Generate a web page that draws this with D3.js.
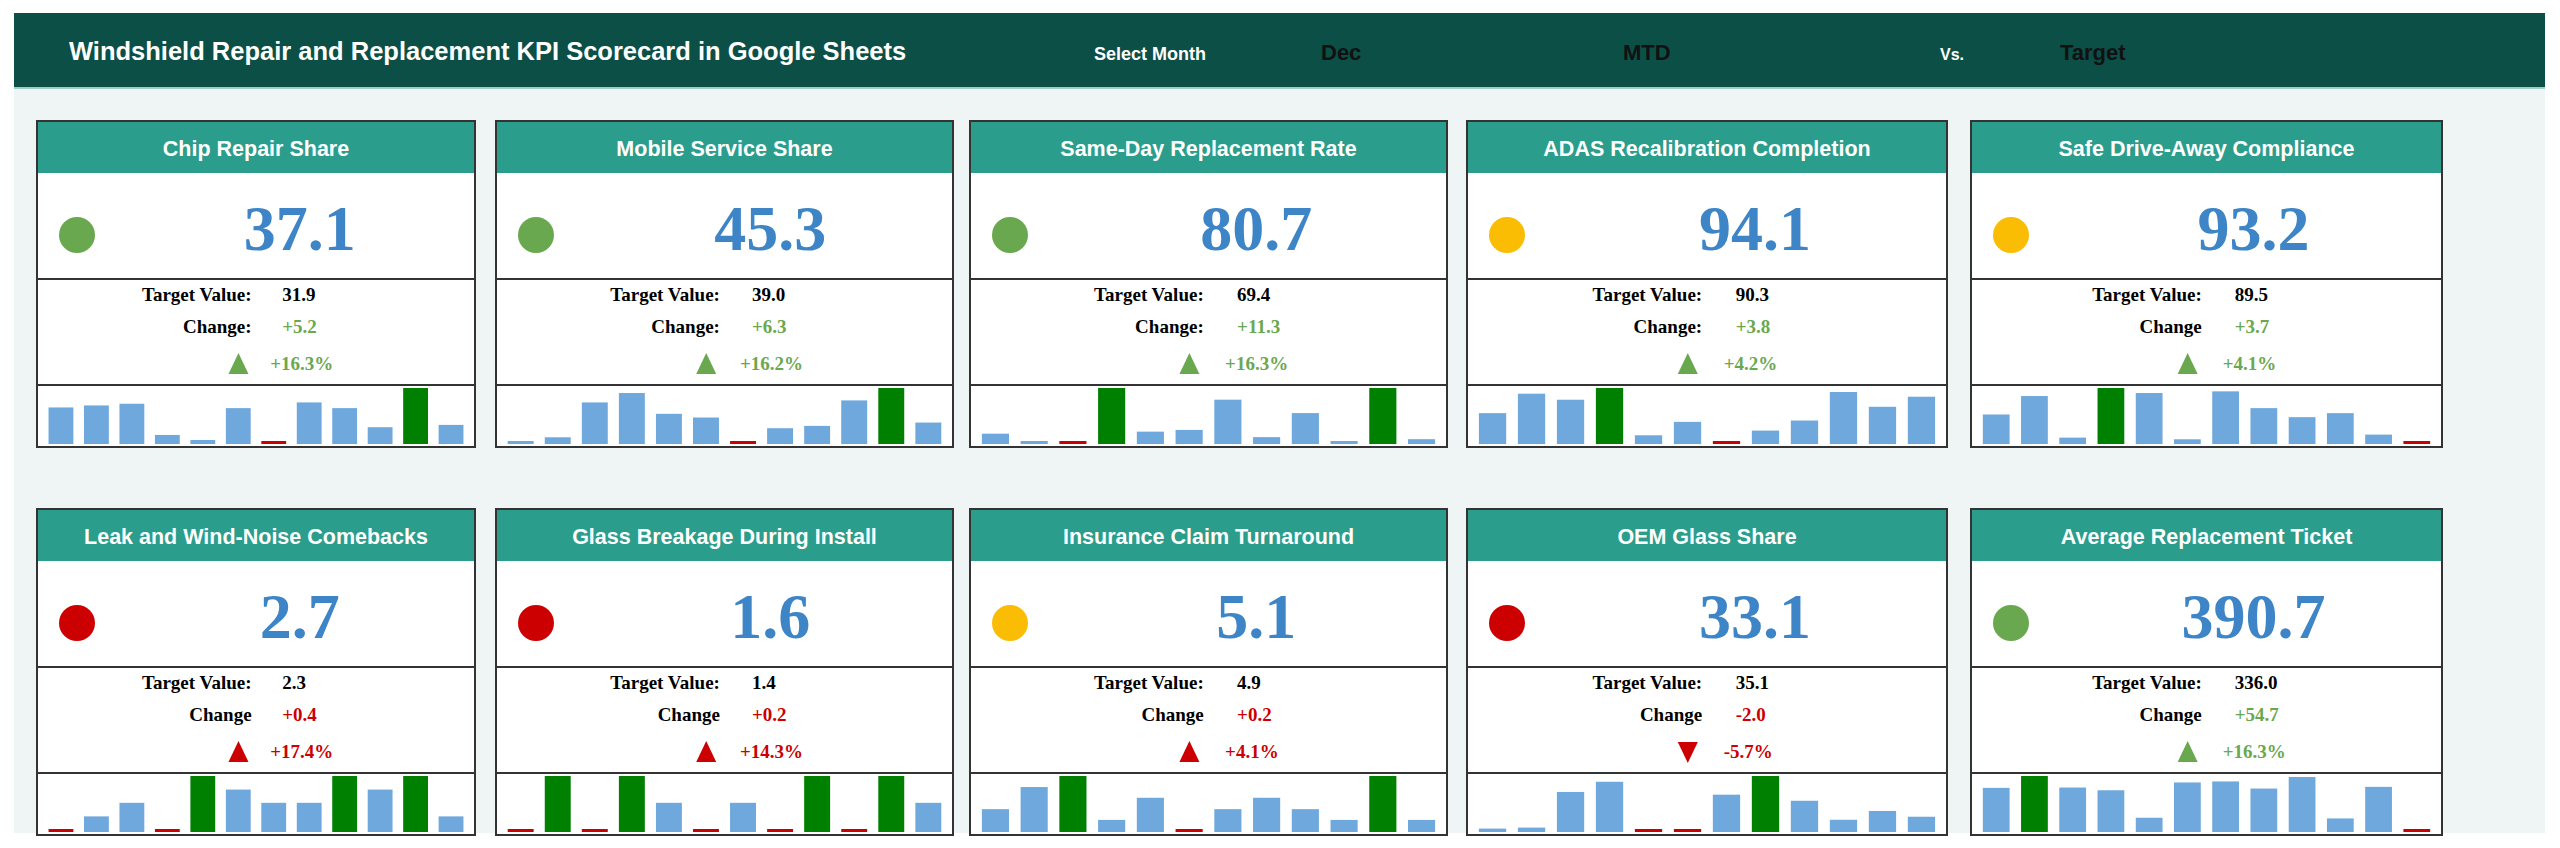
<!DOCTYPE html>
<html>
<head>
<meta charset="utf-8">
<script src="https://cdn.jsdelivr.net/npm/d3@7"></script>
<style>
  body { margin: 0; background: #fff; }
  svg { display: block; }
</style>
</head>
<body>
<svg id="board" width="2560" height="848"></svg>
<script>
// KPI scorecard data
var titles = ["Chip Repair Share", "Mobile Service Share", "Same-Day Replacement Rate", "ADAS Recalibration Completion", "Safe Drive-Away Compliance",
  "Leak and Wind-Noise Comebacks", "Glass Breakage During Install", "Insurance Claim Turnaround", "OEM Glass Share", "Average Replacement Ticket"];
var actuals = ["37.1", "45.3", "80.7", "94.1", "93.2", "2.7", "1.6", "5.1", "33.1", "390.7"];
var targets = ["31.9", "39.0", "69.4", "90.3", "89.5", "2.3", "1.4", "4.9", "35.1", "336.0"];
var changes = ["+5.2", "+6.3", "+11.3", "+3.8", "+3.7", "+0.4", "+0.2", "+0.2", "-2.0", "+54.7"];
var pcts = ["+16.3%", "+16.2%", "+16.3%", "+4.2%", "+4.1%", "+17.4%", "+14.3%", "+4.1%", "-5.7%", "+16.3%"];
var kpiStatus = ["good", "good", "good", "warn", "warn", "bad", "bad", "warn", "bad", "good"];
var changeGood = [true, true, true, true, true, false, false, false, false, true];
var arrowUp = [true, true, true, true, true, true, true, true, false, true];
var changeLabels = ["Change:", "Change:", "Change:", "Change:", "Change", "Change", "Change", "Change", "Change", "Change"];
var months = ["Jan", "Feb", "Mar", "Apr", "May", "Jun", "Jul", "Aug", "Sep", "Oct", "Nov", "Dec"];
var trends = [
  [109, 115, 120, 27, 12, 107, 5, 124, 107, 50, 167, 57],
  [7, 20, 124, 152, 90, 79, 4, 47, 54, 130, 167, 64],
  [30, 8, 3, 163, 36, 41, 129, 20, 90, 6, 163, 14],
  [92, 150, 132, 167, 26, 66, 4, 40, 70, 155, 111, 141],
  [88, 143, 19, 167, 152, 14, 157, 107, 80, 92, 28, 4],
  [3, 46, 86, 3, 165, 125, 86, 86, 165, 125, 165, 46],
  [3, 165, 3, 165, 86, 3, 86, 3, 165, 3, 165, 86],
  [66, 130, 162, 35, 99, 3, 66, 99, 66, 35, 162, 35],
  [10, 13, 118, 148, 3, 3, 110, 165, 92, 36, 62, 45],
  [130, 165, 131, 123, 42, 146, 149, 128, 162, 40, 133, 3]
];

var statusColor = { good: "#6aa84f", warn: "#fbbc04", bad: "#cc0000" };
var cardX = [37, 496, 970, 1467, 1971];
var cardW = [438, 457, 477, 480, 471];
var rowY = [121, 509];
var sec = [52, 106, 106, 62];

var svg = d3.select("#board");
var sans = "'Liberation Sans', Arial, sans-serif";
var serif = "'Liberation Serif', 'Times New Roman', serif";

// Background and header
svg.append("rect").attr("x", 14).attr("y", 88).attr("width", 2531).attr("height", 745).attr("fill", "#eef5f4");
svg.append("rect").attr("x", 14).attr("y", 13).attr("width", 2531).attr("height", 76).attr("fill", "#0b4f47");
svg.append("rect").attr("x", 14).attr("y", 87).attr("width", 2531).attr("height", 2).attr("fill", "#9ecfc6");

var head = [
  { t: "Windshield Repair and Replacement KPI Scorecard in Google Sheets", x: 69, s: 25.5, c: "#fff" },
  { t: "Select Month", x: 1094, s: 18, c: "#fff" },
  { t: "Dec", x: 1321, s: 22, c: "#111" },
  { t: "MTD", x: 1623, s: 22, c: "#111" },
  { t: "Vs.", x: 1940, s: 16, c: "#fff" },
  { t: "Target", x: 2060, s: 22, c: "#111" }
];
svg.selectAll("text.head").data(head).enter().append("text")
  .attr("class", "head")
  .attr("x", function (d) { return d.x; })
  .attr("y", 60)
  .attr("font-family", sans)
  .attr("font-weight", "bold")
  .attr("font-size", function (d) { return d.s; })
  .attr("fill", function (d) { return d.c; })
  .text(function (d) { return d.t; });

titles.forEach(function (title, i) {
  var col = i % 5, row = Math.floor(i / 5);
  var x0 = cardX[col], w = cardW[col], y0 = rowY[row];
  var g = svg.append("g").attr("transform", "translate(" + x0 + "," + y0 + ")");
  var h = d3.sum(sec);
  var yVal = sec[0], yDet = sec[0] + sec[1], ySpark = sec[0] + sec[1] + sec[2];

  g.append("rect").attr("width", w).attr("height", h).attr("fill", "#fff");
  g.append("rect").attr("width", w).attr("height", sec[0]).attr("fill", "#2a9d8c");
  g.append("text").attr("x", w / 2).attr("y", 35).attr("text-anchor", "middle")
    .attr("font-family", sans).attr("font-weight", "bold").attr("font-size", 21.5)
    .attr("fill", "#fff").text(title);

  // big value
  g.append("circle").attr("cx", 40).attr("cy", yVal + 62).attr("r", 18).attr("fill", statusColor[kpiStatus[i]]);
  g.append("text").attr("x", w * 0.6).attr("y", yVal + 77).attr("text-anchor", "middle")
    .attr("font-family", serif).attr("font-weight", "bold").attr("font-size", 64)
    .attr("fill", "#3d85c6").text(actuals[i]);

  // details
  var lx = w * 0.49, vx = w * 0.56;
  var cc = changeGood[i] ? "#6aa84f" : "#cc0000";
  var det = g.append("g").attr("font-family", serif).attr("font-weight", "bold").attr("font-size", 19);
  det.append("text").attr("x", lx).attr("y", yDet + 22).attr("text-anchor", "end").attr("fill", "#000").text("Target Value:");
  det.append("text").attr("x", vx).attr("y", yDet + 22).attr("fill", "#000").text(targets[i]);
  det.append("text").attr("x", lx).attr("y", yDet + 54).attr("text-anchor", "end").attr("fill", "#000").text(changeLabels[i]);
  det.append("text").attr("x", vx).attr("y", yDet + 54).attr("fill", cc).text(changes[i]);
  det.append("text").attr("x", vx - 12).attr("y", yDet + 91).attr("fill", cc).text(pcts[i]);
  var tx = w * 0.46, ty = yDet + 85;
  var tri = arrowUp[i]
    ? [[tx - 10, ty + 10], [tx + 10, ty + 10], [tx, ty - 11]]
    : [[tx - 10, ty - 10], [tx + 10, ty - 10], [tx, ty + 11]];
  g.append("path").attr("d", d3.line()(tri) + "Z").attr("fill", cc);

  // sparkline
  var vals = trends[i];
  var xs = d3.scaleBand().domain(months).range([8, w - 8]).paddingInner(0.3).paddingOuter(0.1);
  var mx = d3.max(vals), mn = d3.min(vals);
  var ys = d3.scaleLinear().domain([0, mx]).range([0, sec[3] - 6]);
  g.selectAll("rect.bar").data(vals).enter().append("rect")
    .attr("class", "bar")
    .attr("x", function (d, k) { return xs(months[k]); })
    .attr("width", xs.bandwidth())
    .attr("y", function (d) { return ySpark + sec[3] - 3 - Math.max(ys(d), 3); })
    .attr("height", function (d) { return Math.max(ys(d), 3); })
    .attr("fill", function (d) { return d === mx ? "#008000" : d === mn ? "#cc0000" : "#6fa8dc"; });

  // borders
  var ln = g.append("g").attr("stroke", "#333").attr("stroke-width", 2);
  ln.append("rect").attr("width", w).attr("height", h).attr("fill", "none");
  [yDet, ySpark].forEach(function (yy) {
    ln.append("line").attr("x1", 0).attr("x2", w).attr("y1", yy).attr("y2", yy);
  });
});
</script>
</body>
</html>
